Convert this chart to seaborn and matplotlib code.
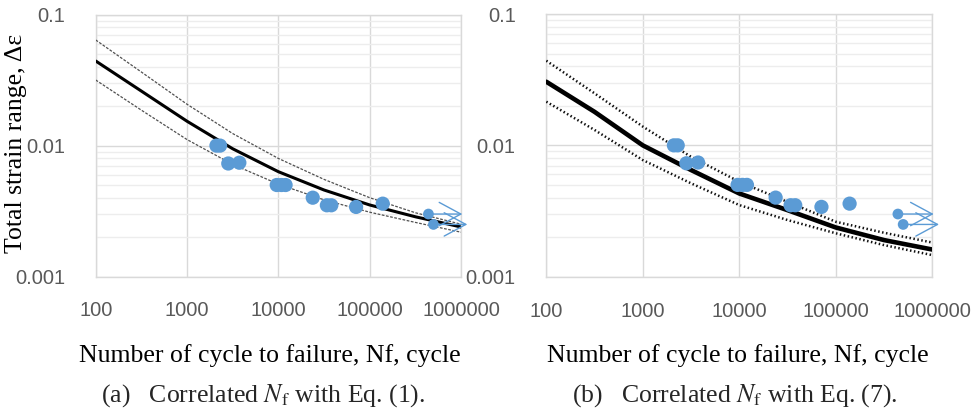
import matplotlib
matplotlib.use("Agg")
import matplotlib.pyplot as plt
import numpy as np
import pandas as pd
import seaborn as sns

# ---------------- data ----------------
N_fail = [2100, 2300, 2830, 3740, 9600, 10800, 12000, 23800, 34000, 38000, 71000, 139000]
strain_fail = [0.0100, 0.0100, 0.0073, 0.0074, 0.0050, 0.0050, 0.0050, 0.0040,
               0.0035, 0.0035, 0.0034, 0.0036]
N_runout = [440000, 499000]
strain_runout = [0.0030, 0.0025]

N_curve = [100, 316, 1000, 3162, 10000, 31623, 100000, 316228, 1000000]
eq1_mean = [0.0443, 0.0261, 0.01535, 0.00946, 0.00632, 0.00458, 0.00352, 0.00286, 0.00239]
eq1_upper = [0.0641, 0.0365, 0.0207, 0.01236, 0.00798, 0.00552, 0.00400, 0.00307, 0.00251]
eq1_lower = [0.0317, 0.01866, 0.01112, 0.00718, 0.00508, 0.00385, 0.00310, 0.00259, 0.00218]
eq7_mean = [0.0305, 0.0180, 0.0100, 0.00649, 0.0043, 0.00321, 0.00237, 0.0019, 0.00161]
eq7_upper = [0.0441, 0.0249, 0.0139, 0.00818, 0.00528, 0.00371, 0.00262, 0.00216, 0.00182]
eq7_lower = [0.0215, 0.0131, 0.00773, 0.00514, 0.00351, 0.0027, 0.00214, 0.00174, 0.00146]

x_ticks = [100, 1000, 10000, 100000, 1000000]
x_tick_labels = ["100", "1000", "10000", "100000", "1000000"]
y_ticks = [0.001, 0.01, 0.1]
y_tick_labels = ["0.001", "0.01", "0.1"]

x_label = "Number of cycle to failure, Nf, cycle"
y_label = "Total strain range, Δε"
captions = ["(a)   Correlated $N_\\mathrm{f}$ with Eq. (1).",
            "(b)   Correlated $N_\\mathrm{f}$ with Eq. (7)."]
runout_arrow_factor = 2.35

# ---------------- style ----------------
sns.set_theme(style="white")
plt.rcParams["font.family"] = ["Liberation Serif", "DejaVu Serif"]
plt.rcParams["mathtext.fontset"] = "stix"

BLUE = "#5B9BD5"
GRID = "#D9D9D9"
MINOR = "#EDEDED"
TICKC = "#595959"

W, H = 978, 417
fig = plt.figure(figsize=(W / 100, H / 100), dpi=100)

def px_axes(x0, x1, y0, y1):
    return fig.add_axes([x0 / W, 1 - y1 / H, (x1 - x0) / W, (y1 - y0) / H])

ax_a = px_axes(95.7, 461.0, 14.7, 276.5)
ax_b = px_axes(546.3, 932.3, 14.0, 276.7)

fail_df = pd.DataFrame({"N": N_fail, "strain": strain_fail})
run_df = pd.DataFrame({"N": N_runout, "strain": strain_runout})

panels = [
    (ax_a, eq1_mean, eq1_upper, eq1_lower, 2.2, dict(color="#505050", lw=0.9, ls=(0, (2.2, 1.2)))),
    (ax_b, eq7_mean, eq7_upper, eq7_lower, 3.3, dict(color="#111111", lw=1.8, ls=(0, (0.6, 1.0)))),
]

for ax, mean, up, lo, mlw, band_style in panels:
    ax.set_xscale("log")
    ax.set_yscale("log")
    ax.set_xlim(100, 1e6)
    ax.set_ylim(0.001, 0.1)

    # grid
    ax.set_axisbelow(True)
    ax.yaxis.set_minor_locator(matplotlib.ticker.LogLocator(base=10, subs=np.arange(2, 10)))
    ax.yaxis.set_minor_formatter(matplotlib.ticker.NullFormatter())
    ax.xaxis.set_minor_locator(matplotlib.ticker.NullLocator())
    ax.grid(True, which="major", color=GRID, lw=1.0)
    ax.grid(True, which="minor", axis="y", color=MINOR, lw=1.0)
    for s in ax.spines.values():
        s.set_color(GRID)
        s.set_linewidth(1.0)

    curve_df = pd.DataFrame({"N": N_curve, "mean": mean, "upper": up, "lower": lo})
    sns.lineplot(data=curve_df, x="N", y="upper", ax=ax, color=band_style["color"],
                 lw=band_style["lw"], linestyle=band_style["ls"], zorder=3)
    sns.lineplot(data=curve_df, x="N", y="lower", ax=ax, color=band_style["color"],
                 lw=band_style["lw"], linestyle=band_style["ls"], zorder=3)
    sns.lineplot(data=curve_df, x="N", y="mean", ax=ax, color="black", lw=mlw, zorder=4)

    sns.scatterplot(data=fail_df, x="N", y="strain", ax=ax, color=BLUE, s=105,
                    edgecolor="none", zorder=5)
    sns.scatterplot(data=run_df, x="N", y="strain", ax=ax, color=BLUE, s=60,
                    edgecolor="none", zorder=5)
    for n, e in zip(N_runout, strain_runout):
        ax.annotate("", xy=(n * runout_arrow_factor, e), xytext=(n, e),
                    xycoords="data", textcoords="data", annotation_clip=False,
                    arrowprops=dict(arrowstyle="->,head_length=1.3,head_width=0.7",
                                    color=BLUE, lw=1.0, shrinkA=0, shrinkB=0),
                    zorder=6)

    ax.set_xticks(x_ticks)
    ax.set_xticklabels(x_tick_labels)
    ax.set_yticks(y_ticks)
    ax.set_yticklabels(y_tick_labels)
    ax.tick_params(axis="both", which="both", length=0, colors=TICKC, labelsize=14.5)
    ax.tick_params(axis="x", pad=18)
    ax.tick_params(axis="y", pad=22)
    for lab in ax.get_xticklabels() + ax.get_yticklabels():
        lab.set_fontfamily(["Liberation Sans", "DejaVu Sans"])
        lab.set_color(TICKC)

    ax.set_xlabel(x_label, fontsize=18.5, color="black")
    ax.set_ylabel("")

ax_a.xaxis.set_label_coords((270 - 95.7) / (461.0 - 95.7), (276.5 - 356) / (276.5 - 14.7))
ax_b.xaxis.set_label_coords((738 - 546.3) / (932.3 - 546.3), (276.7 - 356) / (276.7 - 14.0))
for ax in (ax_a, ax_b):
    ax.xaxis.label.set_va("center")

ax_a.set_ylabel(y_label, fontsize=18.5, color="black")
ax_a.yaxis.set_label_coords((16 - 95.7) / (461.0 - 95.7), (276.5 - 143.5) / (276.5 - 14.7))
ax_a.yaxis.label.set_va("center")

fig.text(263 / W, 1 - 396 / H, captions[0], ha="center", va="center", fontsize=18.5)
fig.text(735 / W, 1 - 396 / H, captions[1], ha="center", va="center", fontsize=18.5)

fig.savefig("out.png", dpi=100)
